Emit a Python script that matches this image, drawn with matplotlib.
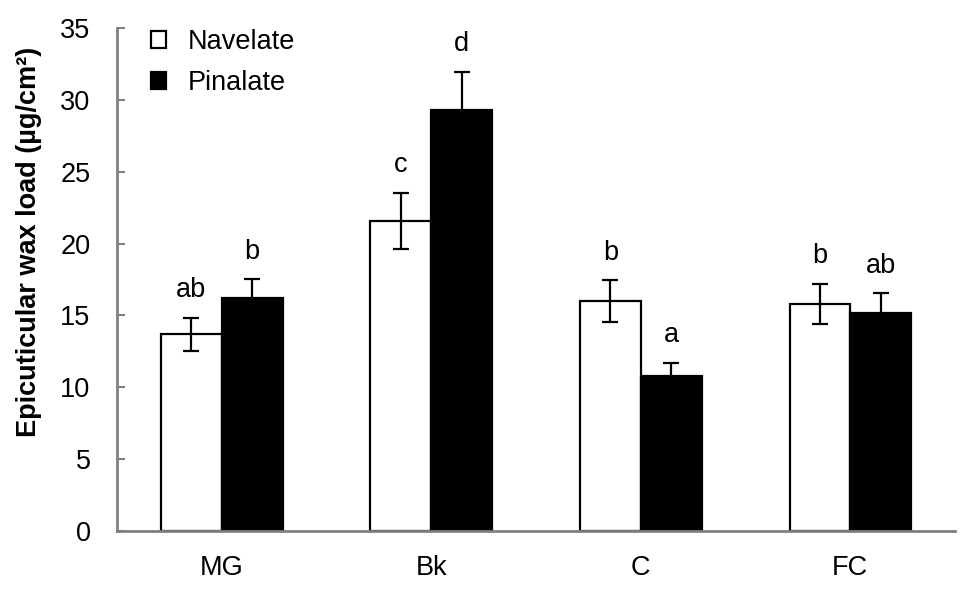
import matplotlib
matplotlib.use("Agg")
import matplotlib.pyplot as plt
import numpy as np

# data
sites = ["MG", "Bk", "C", "FC"]
navelate = [13.7, 21.6, 16.0, 15.8]
navelate_err = [1.15, 1.95, 1.45, 1.4]
pinalate = [16.2, 29.3, 10.8, 15.2]
pinalate_err = [1.3, 2.65, 0.9, 1.35]
nav_letters = ["ab", "c", "b", "b"]
pin_letters = ["b", "d", "a", "ab"]

plt.rcParams["font.family"] = ["Liberation Sans", "DejaVu Sans"]
FS = 19.5

fig = plt.figure(figsize=(9.75, 5.93), dpi=100)
ax = fig.add_axes([0.12, 0.1046, 0.8595, 0.8482])

x = np.arange(len(sites))
w = 0.29
err_kw = dict(elinewidth=1.6, capthick=1.6, capsize=5.5, ecolor="black")

ax.bar(x - w / 2, navelate, w, yerr=navelate_err, color="white",
       edgecolor="black", linewidth=1.6, error_kw=err_kw, label="Navelate")
ax.bar(x + w / 2, pinalate, w, yerr=pinalate_err, color="black",
       edgecolor="black", linewidth=1.6, error_kw=err_kw, label="Pinalate")

for i in range(len(sites)):
    ax.text(x[i] - w / 2, navelate[i] + navelate_err[i] + 1.0, nav_letters[i],
            ha="center", va="bottom", fontsize=FS)
    ax.text(x[i] + w / 2, pinalate[i] + pinalate_err[i] + 1.0, pin_letters[i],
            ha="center", va="bottom", fontsize=FS)

ax.set_xlim(-0.5, 3.5)
ax.set_ylim(0, 35)
ax.set_yticks(range(0, 36, 5))
ax.set_xticks(x)
ax.set_xticklabels(sites)
ax.tick_params(axis="y", direction="in", length=6, width=1.5, color="#808080",
               labelsize=FS, pad=19)
ax.tick_params(axis="x", length=0, labelsize=FS, pad=17)

for s in ["top", "right"]:
    ax.spines[s].set_visible(False)
for s in ["left", "bottom"]:
    ax.spines[s].set_color("#808080")
    ax.spines[s].set_linewidth(2)

ax.set_ylabel("Epicuticular wax load (µg/cm²)", fontsize=FS, fontweight="bold")
ax.yaxis.set_label_coords(-0.089, 0.575)

leg = ax.legend(loc="upper left", bbox_to_anchor=(0.021, 1.03), frameon=False,
                fontsize=FS, handlelength=0.55, handleheight=0.55,
                handletextpad=0.8, labelspacing=0.55, borderaxespad=0.2)

fig.savefig("out.png", dpi=100)
